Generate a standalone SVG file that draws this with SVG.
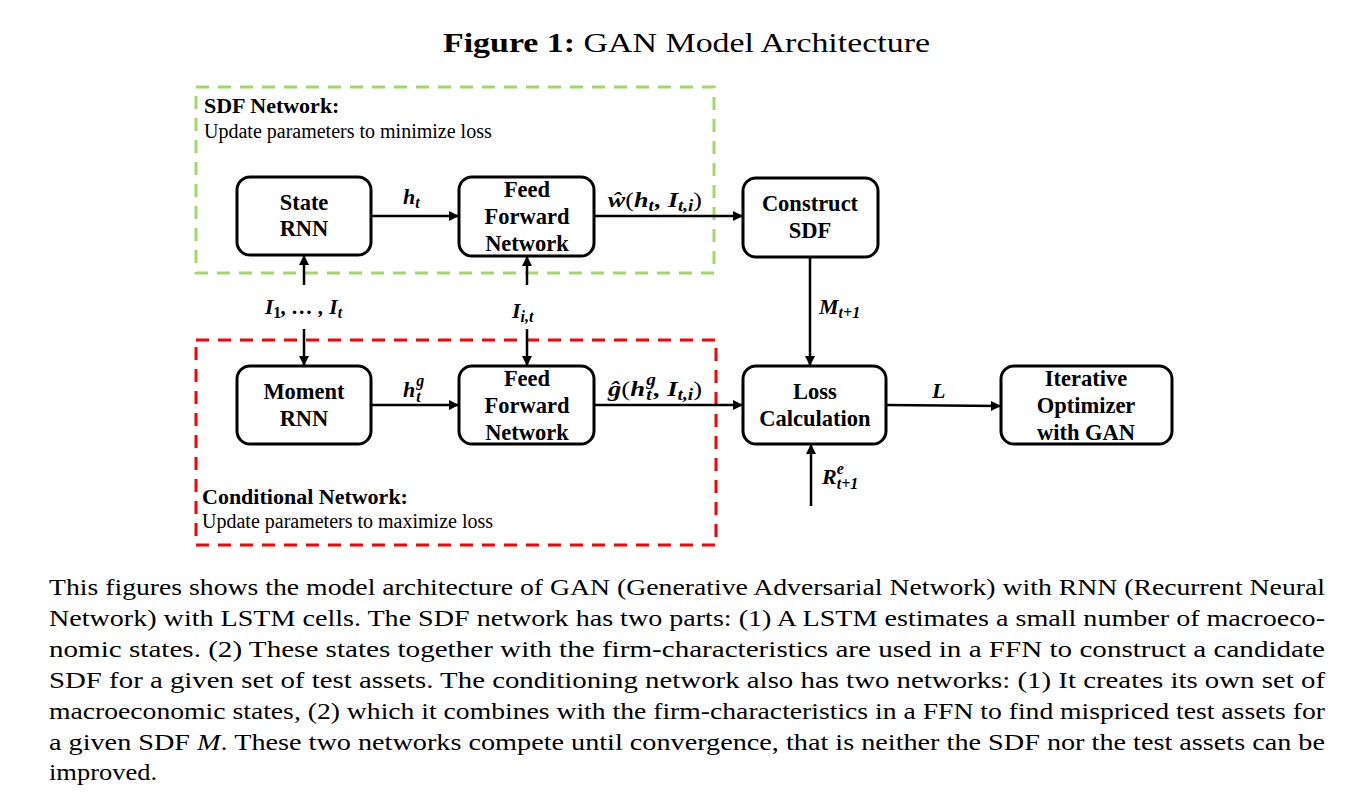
<svg xmlns="http://www.w3.org/2000/svg" width="1353" height="792" viewBox="0 0 1353 792">
<style>
.node rect{fill:#fff;stroke:#000;stroke-width:3}
.nt{font-family:"Liberation Serif",serif;font-weight:bold;font-size:22.5px;text-anchor:middle;fill:#000}
.m{font-family:"Liberation Serif",serif;font-weight:bold;font-style:italic;font-size:22px;fill:#000}
.s{font-size:16px}
.up{font-style:normal;font-weight:normal}
.cap{font-family:"Liberation Serif",serif;font-size:24px;fill:#000}
.conn line{stroke:#000;stroke-width:2.5}
.gh{font-family:"Liberation Serif",serif;font-weight:bold;font-size:22px}
.gs{font-family:"Liberation Serif",serif;font-size:20px}
</style>
<defs>
<marker id="ah" viewBox="0 0 10 10" refX="10" refY="5" markerWidth="4" markerHeight="4" orient="auto" markerUnits="strokeWidth">
<path d="M0,0 L10,5 L0,10 z" fill="#000"/>
</marker>
</defs>
<rect width="1353" height="792" fill="#fff"/>
<text x="443" y="52" textLength="487" lengthAdjust="spacingAndGlyphs" font-family="Liberation Serif,serif" font-size="28"><tspan font-weight="bold">Figure 1:</tspan> GAN Model Architecture</text>

<g id="sdf-network">
<rect x="196" y="87" width="518" height="186" fill="none" stroke="#92D050" stroke-opacity="0.85" stroke-width="3" stroke-dasharray="13 9"/>
<text x="204" y="113" class="gh">SDF Network:</text>
<text x="204" y="138" class="gs">Update parameters to minimize loss</text>
</g>
<g id="conditional-network">
<rect x="196" y="340" width="520" height="205" fill="none" stroke="#FF0000" stroke-width="3" stroke-dasharray="13 9"/>
<text x="202" y="504" class="gh">Conditional Network:</text>
<text x="202" y="528" class="gs">Update parameters to maximize loss</text>
</g>

<g class="conn" id="connectors">
<line x1="371" y1="216" x2="459" y2="216" marker-end="url(#ah)"/>
<line x1="594" y1="216" x2="743" y2="216" marker-end="url(#ah)"/>
<line x1="304" y1="285" x2="304" y2="255" marker-end="url(#ah)"/>
<line x1="304" y1="329" x2="304" y2="366" marker-end="url(#ah)"/>
<line x1="527" y1="285" x2="527" y2="256" marker-end="url(#ah)"/>
<line x1="527" y1="329" x2="527" y2="366" marker-end="url(#ah)"/>
<line x1="810" y1="257" x2="810" y2="366" marker-end="url(#ah)"/>
<line x1="371" y1="405" x2="459" y2="405" marker-end="url(#ah)"/>
<line x1="594" y1="405" x2="743" y2="405" marker-end="url(#ah)"/>
<line x1="886" y1="405" x2="1001" y2="406" marker-end="url(#ah)"/>
<line x1="811" y1="506" x2="811" y2="444" marker-end="url(#ah)"/>
</g>

<g id="labels">
<text x="403" y="204" class="m">h<tspan class="s" dy="4">t</tspan></text>
<text x="608" y="207" class="m" textLength="94" lengthAdjust="spacingAndGlyphs">ŵ<tspan class="up">(</tspan>h<tspan class="s" dy="4">t</tspan><tspan dy="-4" dx="1">, I</tspan><tspan class="s" dy="4">t,i</tspan><tspan class="up" dy="-4">)</tspan></text>
<text x="265" y="314" class="m" textLength="77" lengthAdjust="spacingAndGlyphs">I<tspan class="s" font-style="normal" dy="4">1</tspan><tspan dy="-4">, … , I</tspan><tspan class="s" dy="4">t</tspan></text>
<text x="512" y="318" class="m">I<tspan class="s" dy="4">i,t</tspan></text>
<text x="819" y="314" class="m">M<tspan class="s" dy="4">t+1</tspan></text>
<text x="403" y="397" class="m">h<tspan class="s" dx="1" dy="-11">g</tspan><tspan class="s" dx="-8" dy="16">t</tspan></text>
<text x="608" y="396" class="m" textLength="94" lengthAdjust="spacingAndGlyphs">ĝ<tspan class="up">(</tspan>h<tspan class="s" dx="1" dy="-11">g</tspan><tspan class="s" dx="-8" dy="15">t</tspan><tspan dy="-4" dx="2">, I</tspan><tspan class="s" dy="4">t,i</tspan><tspan class="up" dy="-4">)</tspan></text>
<text x="932" y="398" class="m">L</text>
<text x="822" y="484" class="m">R<tspan class="s" dy="-10">e</tspan><tspan class="s" dx="-7" dy="15">t+1</tspan></text>
</g>

<g id="state-rnn" class="node">
<rect x="237" y="177" width="134" height="78" rx="13"/>
<text x="304" y="210" class="nt">State</text>
<text x="304" y="236" class="nt">RNN</text>
</g>
<g id="ffn-top" class="node">
<rect x="459" y="177" width="135" height="79" rx="13"/>
<text x="527" y="197" class="nt">Feed</text>
<text x="527" y="224" class="nt">Forward</text>
<text x="527" y="251" class="nt">Network</text>
</g>
<g id="construct-sdf" class="node">
<rect x="743" y="178" width="135" height="79" rx="13"/>
<text x="810" y="211" class="nt">Construct</text>
<text x="810" y="238" class="nt">SDF</text>
</g>
<g id="moment-rnn" class="node">
<rect x="237" y="366" width="134" height="78" rx="13"/>
<text x="304" y="399" class="nt">Moment</text>
<text x="304" y="426" class="nt">RNN</text>
</g>
<g id="ffn-bottom" class="node">
<rect x="459" y="366" width="135" height="78" rx="13"/>
<text x="527" y="386" class="nt">Feed</text>
<text x="527" y="413" class="nt">Forward</text>
<text x="527" y="440" class="nt">Network</text>
</g>
<g id="loss-calculation" class="node">
<rect x="743" y="366" width="143" height="78" rx="13"/>
<text x="815" y="399" class="nt">Loss</text>
<text x="815" y="426" class="nt">Calculation</text>
</g>
<g id="iterative-optimizer" class="node">
<rect x="1001" y="366" width="171" height="78" rx="13"/>
<text x="1086" y="386" class="nt">Iterative</text>
<text x="1086" y="413" class="nt">Optimizer</text>
<text x="1086" y="440" class="nt">with GAN</text>
</g>

<g id="caption" class="cap">
<text x="49" y="595" textLength="1276" lengthAdjust="spacingAndGlyphs">This figures shows the model architecture of GAN (Generative Adversarial Network) with RNN (Recurrent Neural</text>
<text x="49" y="626" textLength="1276" lengthAdjust="spacingAndGlyphs">Network) with LSTM cells. The SDF network has two parts: (1) A LSTM estimates a small number of macroeco-</text>
<text x="49" y="657" textLength="1276" lengthAdjust="spacingAndGlyphs">nomic states. (2) These states together with the firm-characteristics are used in a FFN to construct a candidate</text>
<text x="49" y="688" textLength="1276" lengthAdjust="spacingAndGlyphs">SDF for a given set of test assets. The conditioning network also has two networks: (1) It creates its own set of</text>
<text x="49" y="719" textLength="1276" lengthAdjust="spacingAndGlyphs">macroeconomic states, (2) which it combines with the firm-characteristics in a FFN to find mispriced test assets for</text>
<text x="49" y="750" textLength="1276" lengthAdjust="spacingAndGlyphs">a given SDF <tspan font-style="italic">M</tspan>. These two networks compete until convergence, that is neither the SDF nor the test assets can be</text>
<text x="49" y="780" textLength="108" lengthAdjust="spacingAndGlyphs">improved.</text>
</g>
</svg>
